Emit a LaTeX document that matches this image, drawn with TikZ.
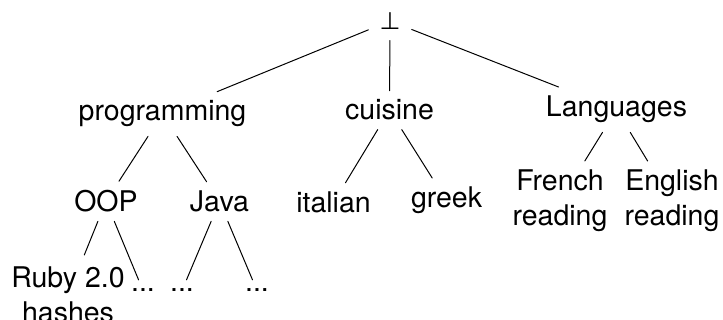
\documentclass[tikz,border=0pt]{standalone}
\usepackage{fontspec}
\setmainfont{TeX Gyre Heros}
\newfontfamily\symfont{DejaVu Sans}

\tikzset{
  label/.style={font=\fontsize{28.5}{35}\selectfont, inner sep=9pt, anchor=base},
  twoline/.style={font=\fontsize{28.5}{35}\selectfont, inner sep=9pt, align=center, anchor=north},
  branch/.style={line width=1pt}
}

\begin{document}
\begin{tikzpicture}[x=1pt,y=-1pt,line cap=round]
    \useasboundingbox (0,0) rectangle (723,320);
    % root
    \node[font=\symfont\fontsize{24}{28}\selectfont, inner sep=11pt] (bot) at (390,21) {⊥};
    % first level
    \node[label] (prog) at (162.5,121) {programming};
    \node[label] (cuisine) at (389.5,120) {cuisine};
    \node[label] (lang) at (616.5,117) {Languages};
    % second level
    \node[label] (oop) at (106,211.7) {OOP};
    \node[label] (java) at (219.5,211.7) {Java};
    \node[label] (italian) at (333.5,212.7) {italian};
    \node[label] (greek) at (446.5,208) {greek};
    \node[twoline] (french) at (560,161) {French\\reading};
    \node[twoline] (english) at (672,161) {English\\reading};
    % leaves
    \node[twoline, inner sep=12pt] (ruby) at (68,255) {Ruby 2.0\\hashes};
    \node[label] (dotsa) at (143,292) {...};
    \node[label] (dotsb) at (182,292) {...};
    \node[label] (dotsc) at (257,292) {...};
    \foreach \a/\b in {bot/prog, bot/cuisine, bot/lang,
                       prog/oop, prog/java, oop/ruby, oop/dotsa,
                       java/dotsb, java/dotsc, cuisine/italian, cuisine/greek,
                       lang/french, lang/english}
      \draw[branch] (\a) -- (\b);
\end{tikzpicture}
\end{document}
